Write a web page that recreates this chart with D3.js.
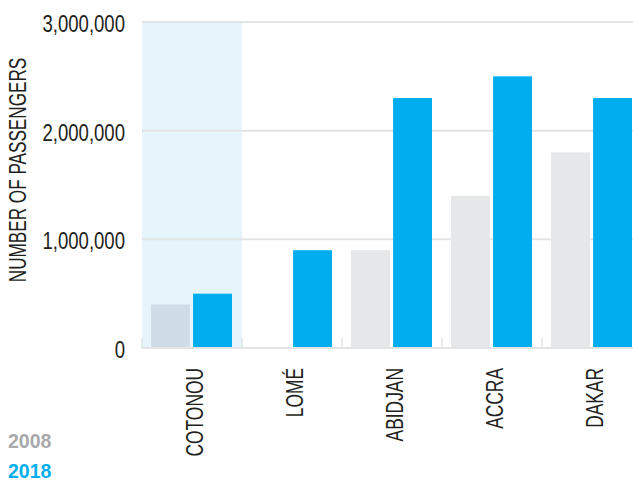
<!DOCTYPE html>
<html><head><meta charset="utf-8">
<script src="https://cdn.jsdelivr.net/npm/d3@7"></script>
<style>
body{margin:0;background:#fff;}
text{font-family:"Liberation Sans",Arial,sans-serif;}
</style></head>
<body>
<svg id="c" width="633" height="483"></svg>
<script>
const categories = ["COTONOU","LOMÉ","ABIDJAN","ACCRA","DAKAR"];
const series2008 = [400000, null, 900000, 1400000, 1800000];
const series2018 = [500000, 900000, 2300000, 2500000, 2300000];
const yTicks = [0, 1000000, 2000000, 3000000];
const highlight = "COTONOU";

const svg = d3.select("#c");
const x = d3.scaleBand().domain(categories).range([142, 642]);
const y = d3.scaleLinear().domain([0, 3000000]).range([348, 22]);
const sub = d3.scaleBand().domain(["2008","2018"]).range([9, 90]).paddingInner(0.075);
const textCol = "#231f20";

// highlight band
svg.append("rect").attr("x", x(highlight)).attr("y", y(3000000))
  .attr("width", x.bandwidth()).attr("height", y(0) - y(3000000)).attr("fill", "#e6f5fc");

// gridlines
svg.append("g").selectAll("line").data(yTicks.filter(d => d > 0)).join("line")
  .attr("x1", 142).attr("x2", 633).attr("y1", d => y(d)).attr("y2", d => y(d))
  .attr("stroke", "#e3e4e5").attr("stroke-width", 2);

// bars
const g = svg.append("g");
categories.forEach((c, i) => {
  if (series2008[i] != null) {
    g.append("rect").attr("x", x(c) + sub("2008")).attr("width", sub.bandwidth())
      .attr("y", y(series2008[i])).attr("height", y(0) - y(series2008[i]))
      .attr("fill", c === highlight ? "#d0dde6" : "#e6e7e8");
  }
  g.append("rect").attr("x", x(c) + sub("2018")).attr("width", sub.bandwidth())
    .attr("y", y(series2018[i])).attr("height", y(0) - y(series2018[i]))
    .attr("fill", "#00aeef");
});

// baseline and ticks
svg.append("line").attr("x1", 142).attr("x2", 633).attr("y1", y(0)).attr("y2", y(0))
  .attr("stroke", "#e3e4e5").attr("stroke-width", 2);
svg.append("g").selectAll("line").data(categories).join("line")
  .attr("x1", d => x(d)).attr("x2", d => x(d)).attr("y1", y(0) - 10).attr("y2", y(0))
  .attr("stroke", "#e3e4e5").attr("stroke-width", 1.5);

// y axis labels
const fmt = d3.format(",");
svg.append("g").selectAll("text").data(yTicks).join("text")
  .attr("transform", d => `translate(125,${y(d) + 10}) scale(0.79,1)`)
  .attr("text-anchor", "end")
  .attr("font-size", 23.5).attr("fill", textCol).text(d => fmt(d));

// y title
svg.append("text").attr("transform", "translate(26,170) rotate(-90) scale(0.73,1)")
  .attr("text-anchor", "middle").attr("font-size", 23.5).attr("fill", textCol)
  .text("NUMBER OF PASSENGERS");

// x labels
svg.append("g").selectAll("text").data(categories).join("text")
  .attr("transform", d => `translate(${x(d) + x.bandwidth()/2 + 10.5},368) rotate(-90) scale(0.74,1)`)
  .attr("text-anchor", "end").attr("font-size", 23.5).attr("fill", textCol).text(d => d);

// legend
svg.append("text").attr("x", 8).attr("y", 448).attr("font-size", 19.5).attr("font-weight", "bold")
  .attr("fill", "#a7a9ac").text("2008");
svg.append("text").attr("x", 8).attr("y", 478).attr("font-size", 19.5).attr("font-weight", "bold")
  .attr("fill", "#00aeef").text("2018");
</script>
</body></html>
